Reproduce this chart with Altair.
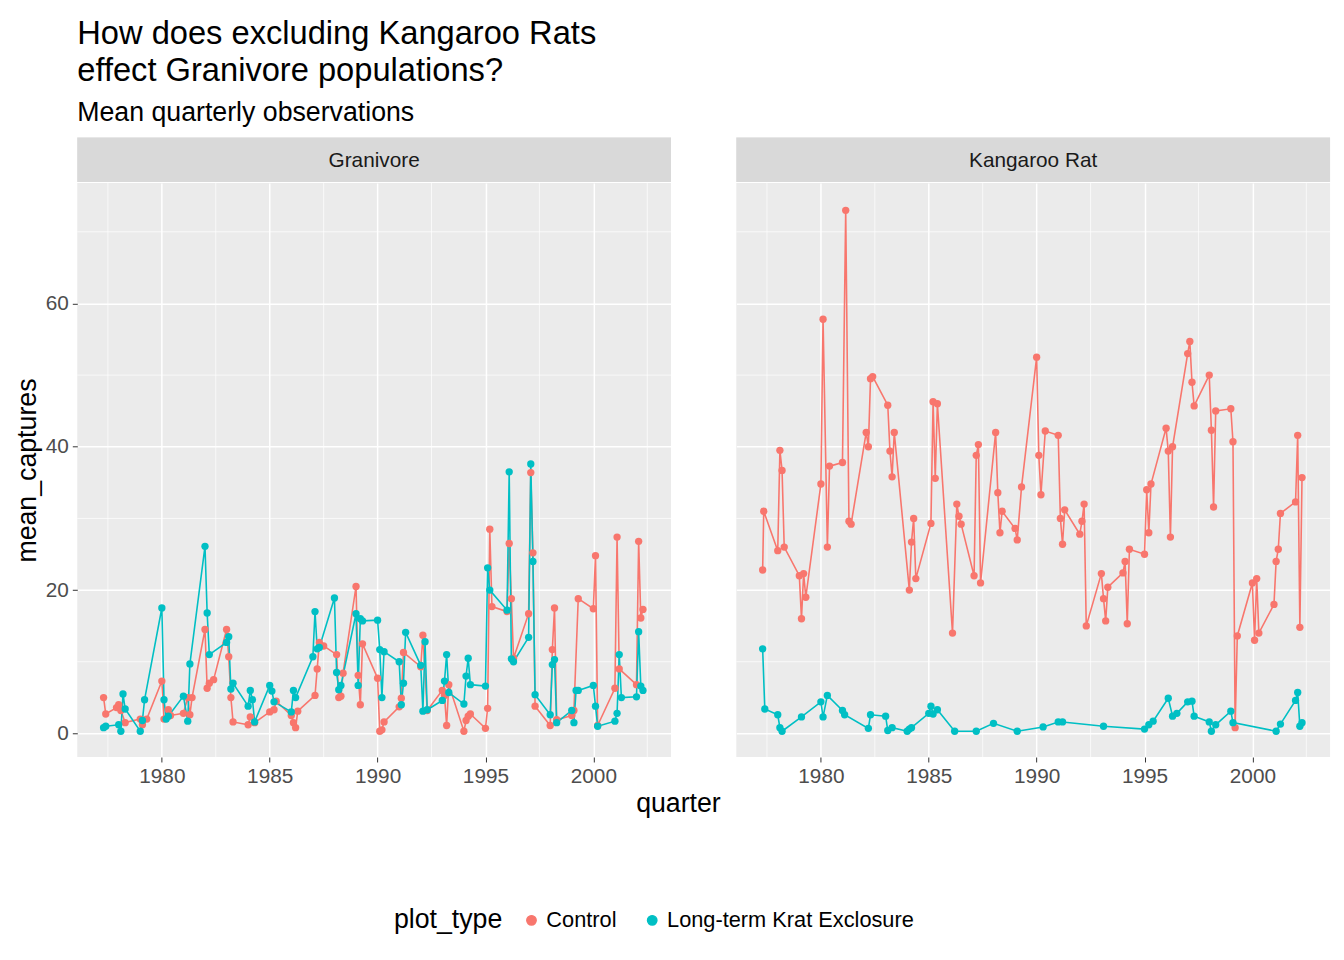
import pandas as pd
import altair as alt

# Granivore panel
gc_q = [1977.3, 1977.4, 1977.9, 1978.0, 1978.1, 1978.3, 1979.0, 1979.1, 1979.3, 1980.0, 1980.1, 1980.3, 1980.4,
        1981.0, 1981.2, 1981.3, 1981.4, 1982.0, 1982.1, 1982.2, 1982.4, 1983.0, 1983.1, 1983.2, 1983.3, 1984.0,
        1984.1, 1984.3, 1985.0, 1985.2, 1985.3, 1986.0, 1986.1, 1986.2, 1986.3, 1987.1, 1987.2, 1987.3, 1987.5,
        1988.1, 1988.2, 1988.3, 1988.4, 1989.0, 1989.1, 1989.2, 1989.3, 1990.0, 1990.1, 1990.2, 1990.3, 1991.0,
        1991.1, 1991.2, 1992.0, 1992.1, 1992.3, 1993.0, 1993.1, 1993.2, 1993.3, 1994.0, 1994.1, 1994.2, 1994.3,
        1995.0, 1995.1, 1995.2, 1995.3, 1996.0, 1996.1, 1996.2, 1996.3, 1997.0, 1997.1, 1997.2, 1997.3, 1998.0,
        1998.1, 1998.2, 1998.3, 1999.0, 1999.1, 1999.3, 2000.0, 2000.1, 2000.2, 2001.0, 2001.1, 2001.2, 2002.0,
        2002.1, 2002.2, 2002.3]
gc_v = [5, 2.7, 3.6, 4, 3.2, 1.5, 2, 1.2, 2, 7.3, 2, 3.3, 2.5,
        2.8, 5, 2.6, 5, 14.5, 6.3, 7, 7.5, 14.5, 10.7, 5, 1.6, 1.2,
        2.3, 1.5, 3, 3.3, 4.5, 2.5, 1.5, 0.8, 3.1, 5.3, 9, 12.7, 12.2,
        11, 5, 5.2, 8.4, 20.5, 8.1, 4, 12.5, 7.7, 0.3, 0.5, 1.6, 3.7,
        4.9, 11.3, 9.3, 13.7, 3.2, 6, 5.3, 1.1, 6.8, 0.3, 1.8, 2.4, 2.7,
        0.7, 3.5, 28.5, 17.7, 17, 26.5, 18.8, 10.5, 16.7, 36.4, 25.2, 3.8, 1.1,
        11.7, 17.5, 1.9, 2.5, 3.2, 18.8, 17.4, 24.8, 1.1, 6.3, 27.4, 9, 6.8,
        26.8, 16.1, 17.3]
ge_q = [1977.3, 1977.4, 1978.0, 1978.1, 1978.2, 1978.3, 1979.0, 1979.1, 1979.2, 1980.0, 1980.1, 1980.2, 1980.3,
        1981.0, 1981.2, 1981.3, 1982.0, 1982.1, 1982.2, 1983.0, 1983.1, 1983.2, 1983.3, 1984.0, 1984.1, 1984.2,
        1984.3, 1985.0, 1985.1, 1985.2, 1986.0, 1986.1, 1986.2, 1987.0, 1987.1, 1987.2, 1987.3, 1988.0, 1988.1,
        1988.2, 1988.3, 1989.0, 1989.1, 1989.2, 1989.3, 1990.0, 1990.1, 1990.2, 1990.3, 1991.0, 1991.1, 1991.2,
        1991.3, 1992.0, 1992.1, 1992.2, 1992.3, 1993.0, 1993.1, 1993.2, 1993.3, 1994.0, 1994.1, 1994.2, 1994.3,
        1995.0, 1995.1, 1995.2, 1996.0, 1996.1, 1996.2, 1996.3, 1997.0, 1997.1, 1997.2, 1997.3, 1998.0, 1998.1,
        1998.2, 1998.3, 1999.0, 1999.1, 1999.2, 1999.3, 2000.0, 2000.1, 2000.2, 2001.0, 2001.1, 2001.2, 2001.3,
        2002.0, 2002.1, 2002.2, 2002.3]
ge_v = [0.8, 1, 1.2, 0.3, 5.5, 3.4, 0.3, 1.8, 4.7, 17.5, 4.7, 2, 2.4,
        5.2, 1.7, 9.7, 26.1, 16.8, 11, 12.7, 13.5, 6.2, 7, 3.8, 6, 4.7,
        1.6, 6.7, 5.9, 4.4, 3, 6, 5, 10.7, 17, 11.8, 12, 18.9, 8.5,
        6.1, 6.7, 16.7, 6.7, 16, 15.7, 15.8, 11.7, 5, 11.4, 10, 4, 7,
        14.1, 9.5, 3.1, 12.8, 3.3, 4.6, 7.3, 11, 5.7, 4.1, 8, 10.5, 6.8,
        6.6, 23.1, 20, 17.2, 36.5, 10.4, 10, 13.4, 37.6, 24, 5.4, 2.6, 9.6,
        10.3, 1.5, 3.2, 1.5, 6, 6, 6.7, 3.8, 1, 1.7, 2.8, 11, 5,
        5.1, 14.2, 6.6, 6]

# Kangaroo Rat panel
kc_q = [1977.3, 1977.35, 1978.0, 1978.1, 1978.2, 1978.3, 1979.0, 1979.1, 1979.2, 1979.3, 1980.0, 1980.1, 1980.3,
        1980.4, 1981.0, 1981.15, 1981.3, 1981.4, 1982.1, 1982.2, 1982.3, 1982.4, 1983.1, 1983.2, 1983.3, 1983.4,
        1984.1, 1984.2, 1984.3, 1984.4, 1985.1, 1985.2, 1985.3, 1985.4, 1986.1, 1986.3, 1986.4, 1986.5, 1987.1,
        1987.2, 1987.3, 1987.4, 1988.1, 1988.2, 1988.3, 1988.4, 1989.0, 1989.1, 1989.3, 1990.0, 1990.1, 1990.2,
        1990.4, 1991.0, 1991.1, 1991.2, 1991.3, 1992.0, 1992.1, 1992.2, 1992.3, 1993.0, 1993.1, 1993.2, 1993.3,
        1994.0, 1994.1, 1994.2, 1994.3, 1995.0, 1995.1, 1995.2, 1995.3, 1996.0, 1996.1, 1996.2, 1996.3, 1997.0,
        1997.1, 1997.2, 1997.3, 1998.0, 1998.1, 1998.2, 1998.3, 1999.0, 1999.1, 1999.2, 1999.3, 2000.0, 2000.1,
        2000.2, 2000.3, 2001.0, 2001.1, 2001.2, 2001.3, 2002.0, 2002.1, 2002.2, 2002.3]
kc_v = [22.8, 31, 25.5, 39.5, 36.7, 26, 22, 16, 22.3, 19, 34.8, 57.8, 26,
        37.3, 37.8, 73, 29.6, 29.2, 42, 40, 49.5, 49.8, 45.8, 39.4, 35.8, 42,
        20, 26.7, 30, 21.6, 29.3, 46.3, 35.6, 46, 14, 32, 30.3, 29.2, 22,
        38.8, 40.3, 21, 42, 33.6, 28, 31, 28.6, 27, 34.4, 52.5, 38.8, 33.3,
        42.2, 41.6, 30, 26.4, 31.2, 27.8, 29.6, 32, 15, 22.3, 18.8, 15.7, 20.4,
        22.4, 24, 15.3, 25.7, 25, 34, 28, 34.8, 42.6, 39.4, 27.4, 40, 53,
        54.7, 49, 45.7, 50, 42.3, 31.6, 45, 45.3, 40.7, 0.8, 13.6, 21, 13,
        21.6, 14, 18, 24, 25.7, 30.7, 32.3, 41.6, 14.8, 35.7]
ke_q = [1977.3, 1977.4, 1978.0, 1978.1, 1978.2, 1979.1, 1980.0, 1980.1, 1980.3, 1981.0, 1981.1, 1982.2, 1982.3,
        1983.0, 1983.1, 1983.3, 1984.0, 1984.1, 1984.2, 1985.0, 1985.1, 1985.2, 1985.4, 1986.2, 1987.2, 1988.0,
        1989.1, 1990.3, 1991.0, 1991.2, 1993.1, 1995.0, 1995.2, 1995.4, 1996.1, 1996.3, 1996.5, 1997.0, 1997.2,
        1997.3, 1998.0, 1998.1, 1998.3, 1999.0, 1999.1, 2001.1, 2001.3, 2002.0, 2002.1, 2002.2, 2002.3]
ke_v = [11.8, 3.4, 2.6, 0.8, 0.3, 2.3, 4.4, 2.3, 5.3, 3.2, 2.6, 0.7, 2.6,
        2.4, 0.4, 0.8, 0.3, 0.6, 0.8, 2.8, 3.8, 2.7, 3.3, 0.3, 0.3, 1.4,
        0.3, 0.9, 1.6, 1.6, 1.0, 0.6, 1.2, 1.7, 4.9, 2.4, 2.8, 4.4, 4.5,
        2.4, 1.6, 0.3, 1.2, 3.1, 1.5, 0.3, 1.3, 4.6, 5.7, 1.0, 1.5]

types = ["Control", "Long-term Krat Exclosure"]
colors = ["#F8766D", "#00BFC4"]
major_x = [1980, 1985, 1990, 1995, 2000]
minor_x = [1977.5, 1982.5, 1987.5, 1992.5, 1997.5, 2002.5]
major_y = [0, 20, 40, 60]
minor_y = [10, 30, 50, 70]

rows = []
for taxa, series in [("Granivore", [(gc_q, gc_v), (ge_q, ge_v)]),
                     ("Kangaroo Rat", [(kc_q, kc_v), (ke_q, ke_v)])]:
    for t, (qs, vs) in zip(types, series):
        for q, v in zip(qs, vs):
            rows.append({"taxa": taxa, "plot_type": t, "quarter": q, "mean_captures": v})
df = pd.DataFrame(rows)

FONT = "Liberation Sans"
W, H = 600, 580
xs = alt.Scale(domain=[1976.08, 2003.6], nice=False, zero=False)
ys = alt.Scale(domain=[-3.3, 76.8], nice=False)
col = alt.Color("plot_type:N", scale=alt.Scale(domain=types, range=colors),
                legend=alt.Legend(title="plot_type", labelLimit=400))


def panel(name, first):
    d = df[df.taxa == name]
    xaxis = alt.Axis(values=major_x, format="d", title="quarter" if first else None,
                     titleX=W + 7, titleAlign="center")
    yaxis = alt.Axis(values=major_y, title="mean_captures") if first else \
        alt.Axis(values=major_y, labels=False, ticks=False, title=None)
    vx = alt.Chart(pd.DataFrame({"v": minor_x})).mark_rule(color="white", strokeWidth=0.7).encode(
        x=alt.X("v:Q", scale=xs, axis=xaxis))
    vy = alt.Chart(pd.DataFrame({"v": minor_y})).mark_rule(color="white", strokeWidth=0.7).encode(
        y=alt.Y("v:Q", scale=ys, axis=yaxis))
    base = alt.Chart(d).encode(
        x=alt.X("quarter:Q", scale=xs, axis=xaxis),
        y=alt.Y("mean_captures:Q", scale=ys, axis=yaxis),
        color=col)
    lines = base.mark_line(strokeWidth=1.6)
    pts = base.mark_circle(size=55, opacity=1)
    plot = alt.layer(vx, vy, lines, pts).properties(width=W, height=H)

    sd = pd.DataFrame({"t": [name]})
    srect = alt.Chart(sd).mark_rect(color="#D9D9D9").encode(
        x=alt.value(0), x2=alt.value(W), y=alt.value(0), y2=alt.value(45))
    stext = alt.Chart(sd).mark_text(fontSize=21, font=FONT, color="#1A1A1A").encode(
        x=alt.value(W / 2), y=alt.value(24), text="t:N")
    strip = alt.layer(srect, stext).properties(width=W, height=45)
    return alt.vconcat(strip, plot, spacing=0)


pad = "\u2007" * 9
chart = alt.hconcat(panel("Granivore", True), panel("Kangaroo Rat", False), spacing=15).properties(
    title=alt.Title(["How does excluding Kangaroo Rats", pad + "effect Granivore populations?"],
                    subtitle="Mean quarterly observations", anchor="start", frame="group",
                    fontSize=33, fontWeight="normal", font=FONT, color="black",
                    subtitleFontSize=27, subtitleFont=FONT, subtitleColor="black",
                    lineHeight=38, subtitlePadding=12, offset=12)
).configure_view(fill="#EBEBEB", stroke=None).configure_axis(
    domain=False, grid=True, gridColor="white", gridWidth=1.5, tickColor="#333333", tickSize=5,
    labelColor="#4D4D4D", labelFontSize=21, labelFont=FONT, titleFont=FONT, titleFontSize=27,
    titleFontWeight="normal", titleColor="black", labelPadding=4
).configure_legend(
    orient="none", legendX=320, legendY=780, direction="horizontal", titleOrient="left",
    titleFontSize=27, titleFont=FONT, titleFontWeight="normal", titleColor="black",
    labelFontSize=22, labelFont=FONT, labelColor="black", symbolType="circle", symbolSize=90,
    columnPadding=25, titlePadding=18
)

chart.save("out.html", embed_options={"renderer": "svg", "actions": False})
